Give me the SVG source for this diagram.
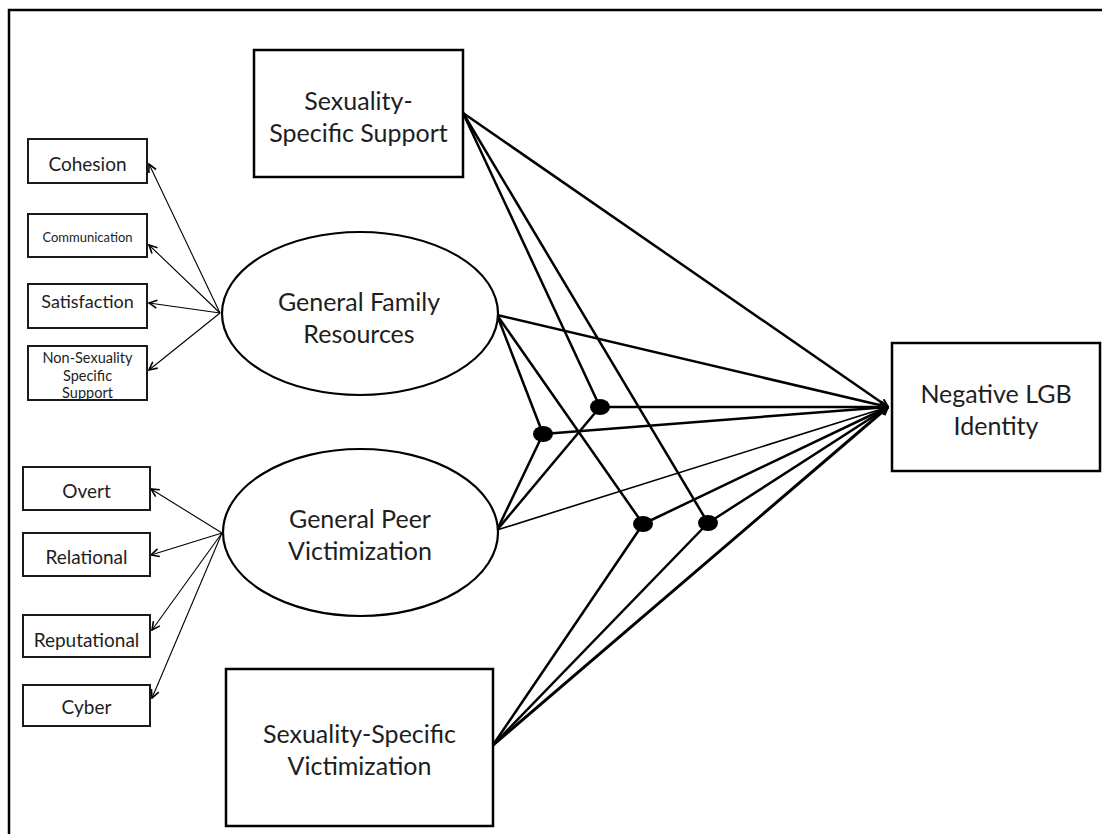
<svg xmlns="http://www.w3.org/2000/svg" width="1102" height="834" viewBox="0 0 1102 834">
<style>
.box{fill:#fff;stroke:#000;stroke-width:2.5}
.ibox{fill:#fff;stroke:#1a1a1a;stroke-width:2}
.ell{fill:#fff;stroke:#000;stroke-width:2.2}
.big{font-family:Lato,"Liberation Sans",sans-serif;font-size:25px;fill:#1e1e1e;text-anchor:middle}
.ind{font-family:Lato,"Liberation Sans",sans-serif;font-size:19px;fill:#1e1e1e;text-anchor:middle}
.thin{stroke:#000;stroke-width:1.1;fill:none;marker-end:url(#open)}
.path{stroke:#000;stroke-width:2.5;fill:none}
.pathT{stroke:#000;stroke-width:2.5;fill:none;marker-end:url(#tip)}
.pathTthin{stroke:#000;stroke-width:1.6;fill:none;marker-end:url(#tip)}
.dot{fill:#000}
</style>
<defs>
<marker id="open" viewBox="0 0 10 10" refX="9" refY="5" markerWidth="10" markerHeight="10" markerUnits="userSpaceOnUse" orient="auto">
<path d="M1,1 L9,5 L1,9" fill="none" stroke="#000" stroke-width="1.6"/>
</marker>
<marker id="tip" viewBox="0 0 10 10" refX="9" refY="5" markerWidth="10" markerHeight="10" markerUnits="userSpaceOnUse" orient="auto">
<path d="M1,1 L9,5 L1,9" fill="none" stroke="#000" stroke-width="2"/>
</marker>
</defs>
<rect width="1102" height="834" fill="#fff"/>
<g id="frame">
<path d="M9,834 L9,10 L1102,10" fill="none" stroke="#000" stroke-width="2.5"/>
</g>
<g id="connectors">
<line class="thin" x1="220" y1="313" x2="149" y2="164"/>
<line class="thin" x1="220" y1="313" x2="149" y2="245"/>
<line class="thin" x1="220" y1="313" x2="149" y2="303"/>
<line class="thin" x1="220" y1="313" x2="149" y2="370"/>
<line class="thin" x1="222" y1="533" x2="151" y2="489"/>
<line class="thin" x1="222" y1="533" x2="151" y2="555"/>
<line class="thin" x1="222" y1="533" x2="152" y2="630"/>
<line class="thin" x1="222" y1="533" x2="152" y2="698"/>
<line class="pathT" x1="463" y1="113" x2="888" y2="407"/>
<line class="path" x1="463" y1="113" x2="600" y2="407"/>
<line class="path" x1="463" y1="113" x2="708" y2="523"/>
<line class="pathT" x1="497" y1="315" x2="888" y2="407"/>
<line class="path" x1="497" y1="315" x2="543" y2="434"/>
<line class="path" x1="497" y1="315" x2="643" y2="524"/>
<line class="path" x1="497" y1="530" x2="543" y2="434"/>
<line class="path" x1="497" y1="530" x2="600" y2="407"/>
<line class="pathTthin" x1="497" y1="530" x2="888" y2="407"/>
<line class="path" x1="493" y1="745" x2="643" y2="524"/>
<line class="path" x1="493" y1="745" x2="708" y2="523"/>
<line class="pathT" x1="493" y1="745" x2="888" y2="407" style="stroke-width:3"/>
<line class="pathT" x1="543" y1="434" x2="888" y2="407"/>
<line class="pathT" x1="600" y1="407" x2="888" y2="407"/>
<line class="pathT" x1="643" y1="524" x2="888" y2="407"/>
<line class="pathT" x1="708" y1="523" x2="888" y2="407"/>
<ellipse class="dot" cx="543" cy="434" rx="10" ry="8"/>
<ellipse class="dot" cx="600" cy="407" rx="10" ry="8"/>
<ellipse class="dot" cx="643" cy="524" rx="10" ry="8"/>
<ellipse class="dot" cx="708" cy="523" rx="10" ry="8"/>
</g>
<g id="sss">
<rect class="box" x="254" y="50" width="209" height="127"/>
<text class="big" x="358.5" y="110">Sexuality-</text>
<text class="big" x="358.5" y="142">Specific Support</text>
</g>
<g id="family">
<ellipse class="ell" cx="360" cy="313.5" rx="138" ry="81.5"/>
<text class="big" x="359" y="311">General Family</text>
<text class="big" x="359" y="343">Resources</text>
</g>
<g id="peer">
<ellipse class="ell" cx="360.5" cy="532.5" rx="137.5" ry="83.5"/>
<text class="big" x="360" y="528">General Peer</text>
<text class="big" x="360" y="560">Victimization</text>
</g>
<g id="ssv">
<rect class="box" x="226" y="669" width="267" height="157"/>
<text class="big" x="359.5" y="743">Sexuality-Specific</text>
<text class="big" x="359.5" y="775">Victimization</text>
</g>
<g id="outcome">
<rect class="box" x="892" y="343" width="208" height="128"/>
<text class="big" x="996" y="403">Negative LGB</text>
<text class="big" x="996" y="435">Identity</text>
</g>
<g id="cohesion">
<rect class="ibox" x="28" y="139" width="119" height="44"/>
<text class="ind" x="87.5" y="171">Cohesion</text>
</g>
<g id="communication">
<rect class="ibox" x="28" y="214" width="119" height="43"/>
<text class="ind" x="87.5" y="242" style="font-size:13px">Communication</text>
</g>
<g id="satisfaction">
<rect class="ibox" x="28" y="284" width="119" height="44"/>
<text class="ind" x="87.5" y="308" style="font-size:18px">Satisfaction</text>
</g>
<g id="nonsexuality">
<rect class="ibox" x="28" y="346" width="119" height="54"/>
<text class="ind" x="87.5" y="363" style="font-size:14.5px">Non-Sexuality</text>
<text class="ind" x="87.5" y="381" style="font-size:14.5px">Specific</text>
<text class="ind" x="87.5" y="398" style="font-size:14.5px">Support</text>
</g>
<g id="overt">
<rect class="ibox" x="23" y="467" width="127" height="43"/>
<text class="ind" x="86.5" y="498">Overt</text>
</g>
<g id="relational">
<rect class="ibox" x="23" y="533" width="127" height="43"/>
<text class="ind" x="86.5" y="564">Relational</text>
</g>
<g id="reputational">
<rect class="ibox" x="23" y="615" width="127" height="42"/>
<text class="ind" x="86.5" y="647">Reputational</text>
</g>
<g id="cyber">
<rect class="ibox" x="23" y="685" width="127" height="41"/>
<text class="ind" x="86.5" y="714">Cyber</text>
</g>
</svg>
